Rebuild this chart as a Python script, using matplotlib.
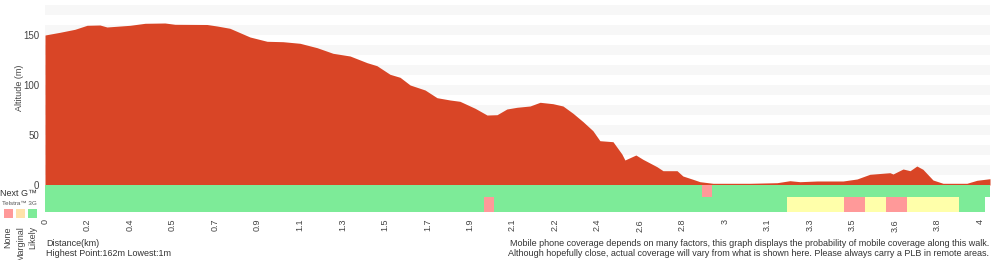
import matplotlib
matplotlib.use("Agg")
import matplotlib.pyplot as plt

plt.rcParams['font.family'] = ['Liberation Sans', 'DejaVu Sans']

# ---- data ----
dist_km = [0, 0.064, 0.128, 0.180, 0.235, 0.265, 0.364, 0.428, 0.513, 0.556, 0.693, 0.736,
           0.791, 0.877, 0.950, 1.018, 1.091, 1.164, 1.232, 1.305, 1.378, 1.420, 1.476, 1.519,
           1.562, 1.626, 1.677, 1.733, 1.775, 1.840, 1.891, 1.934, 1.976, 2.019, 2.075, 2.118,
           2.173, 2.216, 2.259, 2.302, 2.344, 2.374, 2.430, 2.468, 2.481, 2.528, 2.558, 2.588,
           2.618, 2.644, 2.704, 2.729, 2.772, 2.802, 2.858, 3.016, 3.132, 3.187, 3.230, 3.303,
           3.414, 3.474, 3.529, 3.615, 3.628, 3.671, 3.701, 3.730, 3.756, 3.799, 3.842, 3.944,
           3.987, 4.043]
altitude_m = [150, 152.7, 155.7, 159.7, 160, 158, 159.7, 161.7, 162, 160.7, 160.5, 159,
              156.7, 148, 143.7, 143.3, 141.7, 137.3, 131.7, 129, 122.3, 119.3, 110.7, 107.7,
              100, 95, 87.3, 85, 83.7, 76.7, 70, 70.3, 76, 77.7, 79, 82.7,
              81.3, 79, 71.7, 63.3, 54.3, 44.3, 43.3, 31, 25, 30, 25.7, 22,
              18.3, 14.3, 14.3, 9, 5.7, 3.3, 1.7, 1.7, 2.3, 4.3, 3.3, 4,
              4, 6, 10.7, 12.3, 11, 16, 14.3, 19, 15.7, 5, 1.7, 1.7,
              4.7, 6.3]

tick_labels = ["0", "0.2", "0.4", "0.5", "0.7", "0.9", "1.1", "1.3", "1.5", "1.7", "1.9",
               "2.1", "2.2", "2.4", "2.6", "2.8", "3", "3.1", "3.3", "3.5", "3.6", "3.8", "4"]
tick_step_km = 4.0 / 22

# coverage segments: start km, end km, level
nextg_start = [0.0, 2.809, 2.852]
nextg_end = [2.809, 2.852, 4.043]
nextg_level = ["Likely", "None", "Likely"]

g3_start = [0.0, 1.878, 1.921, 3.174, 3.417, 3.508, 3.597, 3.688, 3.911]
g3_end = [1.878, 1.921, 3.174, 3.417, 3.508, 3.597, 3.688, 3.911, 4.021]
g3_level = ["Likely", "None", "Likely", "Marginal", "None", "Marginal", "None", "Marginal", "Likely"]

level_colors = {"None": "#ff9999", "Marginal": "#ffffaa", "Likely": "#7deb98"}
legend_colors = {"None": "#ff9999", "Marginal": "#ffe2aa", "Likely": "#7deb98"}

# ---- figure ----
W, H = 1000, 260
fig = plt.figure(figsize=(W / 100, H / 100), dpi=100)
left, right, top, bottom = 45, 990, 5, 212
ax = fig.add_axes([left / W, 1 - bottom / H, (right - left) / W, (bottom - top) / H])
ax.set_xlim(0, 4.043)
ax.set_ylim(-27, 180)

for b in range(10, 180, 20):
    ax.axhspan(b, b + 10, color="#f7f7f7", lw=0, zorder=0)

ax.fill_between(dist_km, 0, altitude_m, color="#d94526", lw=0, zorder=2)

for s, e, lv in zip(nextg_start, nextg_end, nextg_level):
    ax.broken_barh([(s, e - s)], (-12, 12), facecolors=level_colors[lv], lw=0, zorder=3)
for s, e, lv in zip(g3_start, g3_end, g3_level):
    ax.broken_barh([(s, e - s)], (-27, 15), facecolors=level_colors[lv], lw=0, zorder=3)

for sp in ax.spines.values():
    sp.set_visible(False)
ax.set_yticks([0, 50, 100, 150])
ax.set_yticklabels(["0", "50", "100", "150"], fontsize=7, color="#444444")
ax.tick_params(axis="y", length=0, pad=4)
ax.set_xticks([i * tick_step_km for i in range(len(tick_labels))])
ax.set_xticklabels(tick_labels, rotation=90, fontsize=6.5, color="#444444", va="top")
ax.tick_params(axis="x", length=0, pad=5)
ax.set_ylabel("Altitude (m)", fontsize=6.5, color="#444444")
ax.yaxis.set_label_coords((24 - left) / (right - left), (bottom - 88) / (bottom - top))

# side labels
fig.text(0 / W, 1 - 193.5 / H, "Next G™", fontsize=6.5, color="#333333", ha="left", va="center")
fig.text(19 / W, 1 - 203.5 / H, "Telstra™ 3G", fontsize=4.5, color="#555555", ha="center", va="center")
for xc, lv in zip([8, 20.5, 32.5], ["None", "Marginal", "Likely"]):
    fig.patches.append(matplotlib.patches.Rectangle(((xc - 4.5) / W, 1 - 218 / H), 9 / W, 9 / H,
                                                    transform=fig.transFigure,
                                                    color=legend_colors[lv], lw=0))
    fig.text(xc / W, 1 - 226 / H, lv, rotation=90, fontsize=6.5, color="#444444",
             ha="center", va="top")

fig.text(46 / W, 1 - 243 / H, "Distance(km)", fontsize=6.5, color="#333333", va="center")
fig.text(46 / W, 1 - 253 / H, "Highest Point:162m Lowest:1m", fontsize=6.5, color="#333333", va="center")
fig.text(989 / W, 1 - 243 / H,
         "Mobile phone coverage depends on many factors, this graph displays the probability of mobile coverage along this walk.",
         fontsize=6.5, color="#333333", ha="right", va="center")
fig.text(989 / W, 1 - 253 / H,
         "Although hopefully close, actual coverage will vary from what is shown here. Please always carry a PLB in remote areas.",
         fontsize=6.5, color="#333333", ha="right", va="center")

fig.savefig("out.png", dpi=100)
